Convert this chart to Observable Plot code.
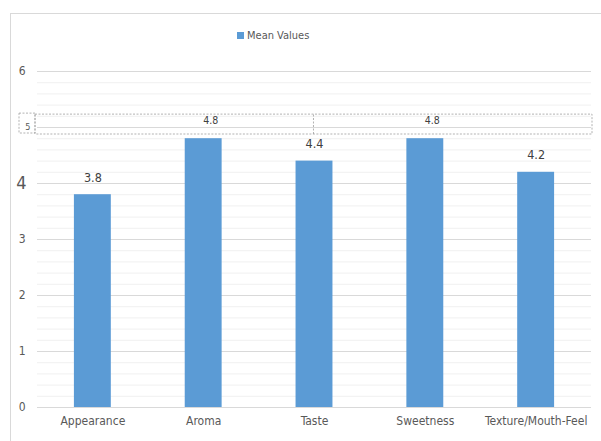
<!DOCTYPE html>
<html>
<head>
<meta charset="utf-8">
<script src="https://cdn.jsdelivr.net/npm/d3@7"></script>
<script src="https://cdn.jsdelivr.net/npm/@observablehq/plot@0.6"></script>
<style>
  html, body { margin: 0; padding: 0; background: #fff; }
  #wrap { position: relative; width: 601px; height: 441px; overflow: hidden; font-family: "DejaVu Sans Condensed", "Liberation Sans Narrow", sans-serif; }
  #frame { position: absolute; left: 10px; top: 13px; width: 600px; height: 440px; border-left: 1px solid #d9d9d9; border-top: 1px solid #d9d9d9; }
  #legend { position: absolute; left: 237px; top: 29px; font-size: 11px; color: #595959; display: flex; align-items: center; gap: 3px; }
  #legend .sw { width: 7px; height: 7px; background: #5B9BD5; display: inline-block; }
  #chart { position: absolute; left: 0; top: 0; }
</style>
</head>
<body>
<div id="wrap">
  <div id="frame"></div>
  <div id="chart"></div>
  <div id="legend"><span class="sw"></span><span>Mean Values</span></div>
</div>
<script>
const categories = ["Appearance", "Aroma", "Taste", "Sweetness", "Texture/Mouth-Feel"];
const meanValues = [3.8, 4.8, 4.4, 4.8, 4.2];
const seriesName = "Mean Values";
const yTicksNormal = [0, 1, 2, 3, 6];
const yTickLarge = [4];
const yTickSmall = [5];
const minorTicks = d3.range(0, 6.001, 0.2).map(v => Math.round(v * 10) / 10);

const data = categories.map((c, i) => ({category: c, value: meanValues[i]}));
// labels of the two top bars sit displaced inside the dashed box
const boxLow = 4.875, boxHigh = 5.23, boxLabelY = 5.13;
const displaced = data.filter(d => d.value === d3.max(meanValues));
const normal = data.filter(d => d.value !== d3.max(meanValues));

const FONT = "DejaVu Sans Condensed, Liberation Sans Narrow, sans-serif";
const DASH = "#a0a0a0";

const chart = Plot.plot({
  width: 601,
  height: 441,
  marginLeft: 37,
  marginRight: 10,
  marginTop: 71,
  marginBottom: 34,
  style: {fontFamily: FONT, background: "transparent"},
  x: {domain: categories, paddingInner: 0.667, paddingOuter: 0.333, round: false, label: null},
  y: {domain: [0, 6], label: null},
  marks: [
    Plot.ruleY(minorTicks, {stroke: "#f0f0f0", strokeWidth: 1}),
    Plot.ruleY(d3.range(0, 7), {stroke: "#d9d9d9", strokeWidth: 1}),
    Plot.rect([{y1: boxLow, y2: boxHigh}], {y1: "y1", y2: "y2", fill: "none", stroke: DASH, strokeWidth: 0.8, strokeDasharray: "2,1.5", insetLeft: -2, insetRight: -1}),
    Plot.ruleX(["Taste"], {x: d => d, y1: boxLow, y2: boxHigh, stroke: DASH, strokeWidth: 0.8, strokeDasharray: "2,1.5", dx: -1}),
    Plot.barY(data, {x: "category", y: "value", fill: "#5B9BD5"}),
    Plot.text(normal, {x: "category", y: "value", text: d => d.value.toFixed(1), dy: -17, fill: "#404040", fontSize: 12.5}),
    Plot.text(displaced, {x: "category", y: () => boxLabelY, text: d => d.value.toFixed(1), dx: 7, fill: "#404040", fontSize: 10.5}),
    Plot.axisX({tickSize: 0, tickPadding: 9, fontSize: 12, fill: "#595959"}),
    Plot.axisY(yTicksNormal, {tickSize: 0, tickPadding: 12, fontSize: 12, fill: "#595959", tickFormat: "d"}),
    Plot.axisY(yTickLarge, {tickSize: 0, tickPadding: 11, fontSize: 18, fill: "#595959", tickFormat: "d"}),
    Plot.axisY(yTickSmall, {tickSize: 0, tickPadding: 7, fontSize: 9, fill: "#595959", tickFormat: "d", className: "small-tick"})
  ]
});
document.getElementById("chart").appendChild(chart);

// dashed box around the small "5" tick label
const yScale = chart.scale("y");
const boxTopPx = yScale.apply(boxHigh) - 1;
const boxBottomPx = yScale.apply(boxLow) - 1;
const boxLeftPx = 19, boxRightPx = 35;
d3.select(chart).append("rect")
  .attr("x", boxLeftPx)
  .attr("y", boxTopPx)
  .attr("width", boxRightPx - boxLeftPx)
  .attr("height", boxBottomPx - boxTopPx)
  .attr("fill", "none")
  .attr("stroke", DASH)
  .attr("stroke-width", 0.8)
  .attr("stroke-dasharray", "2,1.5");
</script>
</body>
</html>
